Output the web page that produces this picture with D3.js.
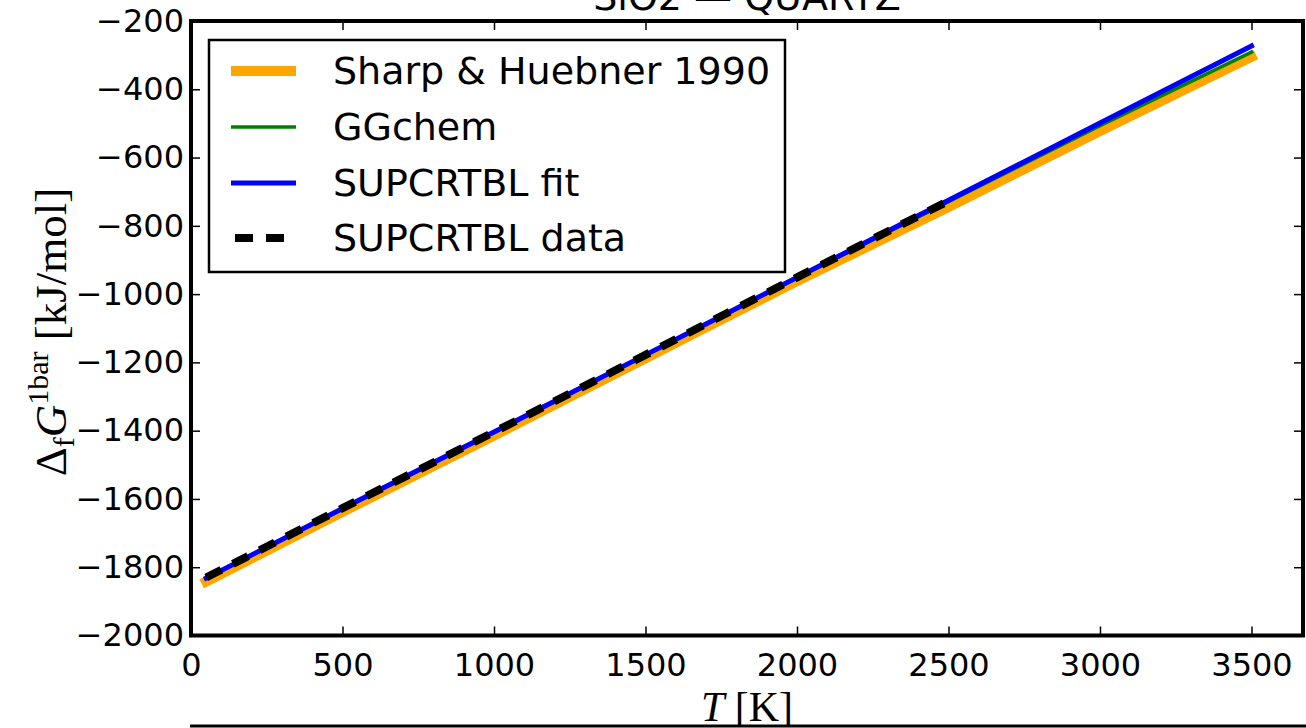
<!DOCTYPE html>
<html><head><meta charset="utf-8">
<script src="https://cdn.jsdelivr.net/npm/d3@7"></script>
<style>html,body{margin:0;padding:0;background:#fff;overflow:hidden}</style>
</head><body><svg id="c" width="1306" height="728"></svg>
<script>
// ---- data ----
const T_full = [50, 500, 1000, 1500, 2000, 2500, 3000, 3500];
const G_sharp = [-1842, -1638, -1414, -1188, -962, -745, -522, -305];
const G_ggchem = [-1833, -1629, -1405, -1179, -953, -729, -507, -291];
const G_fit = [-1832, -1628, -1404, -1178, -951, -725, -499, -273];
const T_data = [50, 500, 1000, 1500, 2000, 2500];
const G_data = [-1830, -1627, -1404, -1178, -951, -727];
const xTicks = [0, 500, 1000, 1500, 2000, 2500, 3000, 3500];
const yTicks = [-200, -400, -600, -800, -1000, -1200, -1400, -1600, -1800, -2000];
const seriesNames = ["Sharp & Huebner 1990", "GGchem", "SUPCRTBL fit", "SUPCRTBL data"];
const titleText = "SiO2 \u2014 QUARTZ";

const svg = d3.select("#c");
const L = 191, R = 1303, Tp = 21, B = 635.5;
const x = d3.scaleLinear().domain([0, 3670]).range([L, R]);
const y = d3.scaleLinear().domain([-2000, -200]).range([B, Tp]);

const styles = [
  {color: "#FFA500", w: 10, dash: null},
  {color: "#008000", w: 3.5, dash: null},
  {color: "#0000FF", w: 5, dash: null},
  {color: "#000000", w: 8, dash: "17,13"}
];
const series = [
  {T: T_full, G: G_sharp},
  {T: T_full, G: G_ggchem},
  {T: T_full, G: G_fit},
  {T: T_data, G: G_data}
];

svg.append("clipPath").attr("id", "pc").append("rect")
  .attr("x", L).attr("y", Tp).attr("width", R - L).attr("height", B - Tp);

const line = d3.line().x(d => x(d[0])).y(d => y(d[1])).curve(d3.curveMonotoneX);
const g = svg.append("g").attr("clip-path", "url(#pc)");
series.forEach((s, i) => {
  const st = styles[i];
  g.append("path")
    .datum(s.T.map((t, k) => [t, s.G[k]]))
    .attr("d", line).attr("fill", "none")
    .attr("stroke", st.color).attr("stroke-width", st.w)
    .attr("stroke-linecap", st.dash ? "butt" : "square")
    .attr("stroke-dasharray", st.dash);
});

// axes (ticks inward, all 4 sides)
const fmt = d => d < 0 ? "\u2212" + Math.abs(d) : String(d);
const tickFont = "DejaVu Sans";
const axB = svg.append("g").attr("transform", `translate(0,${B})`)
  .call(d3.axisBottom(x).tickValues(xTicks).tickSizeInner(-9).tickSizeOuter(0).tickPadding(16).tickFormat(fmt));
const axT = svg.append("g").attr("transform", `translate(0,${Tp})`)
  .call(d3.axisTop(x).tickValues(xTicks).tickSizeInner(-9).tickSizeOuter(0).tickFormat(""));
const axL = svg.append("g").attr("transform", `translate(${L},0)`)
  .call(d3.axisLeft(y).tickValues(yTicks).tickSizeInner(-9).tickSizeOuter(0).tickPadding(7).tickFormat(fmt));
const axR = svg.append("g").attr("transform", `translate(${R},0)`)
  .call(d3.axisRight(y).tickValues(yTicks).tickSizeInner(-9).tickSizeOuter(0).tickFormat(""));
[axB, axT, axL, axR].forEach(a => {
  a.select(".domain").remove();
  a.selectAll(".tick line").attr("stroke", "#000").attr("stroke-width", 1.5);
  a.selectAll("text").attr("font-family", tickFont).attr("font-size", 32).attr("fill", "#000");
});
axB.selectAll("text").attr("dy", null).attr("y", 40);

// frame
svg.append("rect").attr("x", L).attr("y", Tp).attr("width", R - L).attr("height", B - Tp)
  .attr("fill", "none").attr("stroke", "#000").attr("stroke-width", 4);

// legend
const lg = svg.append("g");
lg.append("rect").attr("x", 209).attr("y", 40).attr("width", 576).attr("height", 232)
  .attr("fill", "#fff").attr("stroke", "#000").attr("stroke-width", 2.5);
const rowY = [71, 127, 183, 238];
seriesNames.forEach((n, i) => {
  const st = styles[i];
  lg.append("line").attr("x1", st.dash ? 235 : 231).attr("x2", st.dash ? 297 : 296)
    .attr("y1", rowY[i]).attr("y2", rowY[i])
    .attr("stroke", st.color).attr("stroke-width", st.w)
    .attr("stroke-dasharray", st.dash ? "18,13" : null);
  lg.append("text").attr("x", 333).attr("y", rowY[i] + 13)
    .attr("font-family", "DejaVu Sans").attr("font-size", 38).text(n);
});

// title (cut at top)
svg.append("text").attr("x", (L + R) / 2).attr("y", 10).attr("text-anchor", "middle")
  .attr("font-family", "DejaVu Sans").attr("font-size", 38).text(titleText);

// x label
const xl = svg.append("text").attr("x", (L + R) / 2).attr("y", 721).attr("text-anchor", "middle")
  .attr("font-family", "Liberation Serif").attr("font-size", 42);
xl.append("tspan").attr("font-style", "italic").text("T");
xl.append("tspan").text(" [K]");

// y label
const yl = svg.append("text").attr("transform", "translate(66,332) rotate(-90)")
  .attr("text-anchor", "middle").attr("font-family", "Liberation Serif").attr("font-size", 45);
yl.append("tspan").text("\u0394");
yl.append("tspan").attr("font-size", 30).attr("dy", 8).text("f");
yl.append("tspan").attr("font-style", "italic").attr("dy", -8).text("G");
yl.append("tspan").attr("font-size", 30).attr("dy", -18).text("1bar");
yl.append("tspan").attr("dy", 18).text(" [kJ/mol]");

// top spine of the next panel, visible at the bottom edge
svg.append("line").attr("x1", 190).attr("x2", 1306).attr("y1", 726).attr("y2", 726)
  .attr("stroke", "#000").attr("stroke-width", 3);
</script></body></html>
